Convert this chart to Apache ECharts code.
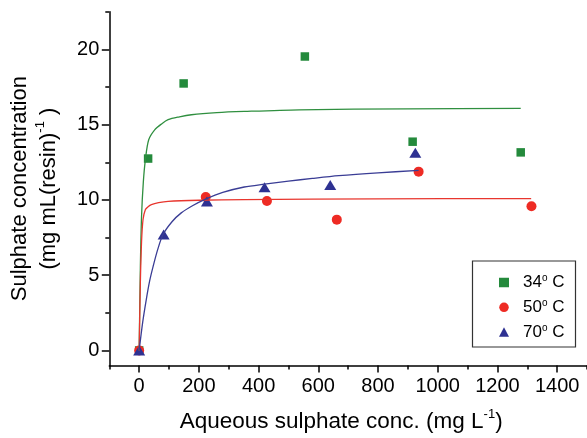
<!DOCTYPE html>
<html>
<head>
<meta charset="utf-8">
<script src="https://cdn.jsdelivr.net/npm/echarts@6/dist/echarts.min.js"></script>
<style>html,body{margin:0;padding:0;background:#fff;}#c{width:587px;height:438px;}</style>
</head>
<body>
<div id="c"></div>
<script>
// ---- data ----
var seriesNames = ['34° C', '50° C', '70° C'];
var data34 = [[0, 0], [30, 12.75], [149, 17.74], [555, 19.53], [916, 13.87], [1278, 13.16]];
var data50 = [[0, 0], [223, 10.2], [428, 9.93], [662, 8.69], [936, 11.88], [1314, 9.58]];
var data70 = [[0, 0], [82, 7.7], [227, 9.9], [420, 10.84], [640, 11.0], [925, 13.14]];
var fit34 = [[0, 0], [4, 5.5], [8, 8.9], [14, 11.2], [21, 12.7], [32, 14.0], [52, 14.66], [75, 15.05], [97, 15.33], [135, 15.52], [175, 15.66], [260, 15.8], [352, 15.88], [536, 15.99], [900, 16.05], [1278, 16.08]];
var fit50 = [[0, 0], [4, 4.5], [8, 7.2], [13, 8.7], [21, 9.36], [30, 9.55], [41, 9.69], [65, 9.82], [97, 9.91], [200, 9.98], [352, 10.02], [800, 10.07], [1313, 10.09]];
var fit70 = [[0, 0], [12, 1.9], [24, 3.4], [35, 4.6], [47, 5.6], [62, 6.7], [80, 7.7], [110, 8.55], [141, 9.14], [180, 9.63], [219, 10.02], [280, 10.5], [352, 10.86], [420, 11.05], [500, 11.25], [580, 11.43], [669, 11.61], [800, 11.8], [936, 11.96]];
var xMajorTicks = [0, 200, 400, 600, 800, 1000, 1200, 1400];
var xMinorTicks = [-100, 100, 300, 500, 700, 900, 1100, 1300, 1500];
var yMajorTicks = [0, 5, 10, 15, 20];
var yMinorTicks = [2.5, 7.5, 12.5, 17.5, 22.5];

var FONT = 'Liberation Sans, Arial, sans-serif';
var cGreen = '#248a3c', cRed = '#ee2b24', cBlue = '#2e3192';
var lGreen = '#2f8f3f', lRed = '#e8362e', lBlue = '#3a3d95';

var chart = echarts.init(document.getElementById('c'), null, {renderer: 'canvas'});
var supMap = {'34° C': '34', '50° C': '50', '70° C': '70'};
var option = {
  animation: false,
  backgroundColor: '#fff',
  textStyle: {fontFamily: FONT},
  grid: {left: 109.3, top: 11.8, width: 480, height: 354.3, containLabel: false},
  xAxis: [{
    type: 'value', min: -100, max: 1500, interval: 100,
    axisLine: {onZero: false, lineStyle: {color: '#000', width: 1.5}},
    axisTick: {show: true, length: 7, customValues: xMajorTicks, lineStyle: {color: '#000', width: 1.5}},
    axisLabel: {customValues: xMajorTicks, color: '#000', fontSize: 20, fontFamily: FONT, margin: 11,
      formatter: function (v) { return String(v); }},
    splitLine: {show: false},
    name: '{a|Aqueous sulphate conc. (mg L}{s|-1}{a|)}',
    nameLocation: 'middle', nameGap: 42,
    nameTextStyle: {padding: [0, 14, 0, 0], rich: {
      a: {fontSize: 22.5, fontFamily: FONT, color: '#000', lineHeight: 28},
      s: {fontSize: 13, fontFamily: FONT, color: '#000', verticalAlign: 'top', lineHeight: 13}
    }}
  }, {
    type: 'value', min: -100, max: 1500, interval: 100, position: 'bottom',
    axisLine: {show: false, onZero: false},
    axisTick: {show: true, length: 4, customValues: xMinorTicks, lineStyle: {color: '#000', width: 1.5}},
    axisLabel: {show: false}, splitLine: {show: false}
  }],
  yAxis: [{
    type: 'value', min: -1, max: 22.5,
    axisLine: {onZero: false, lineStyle: {color: '#000', width: 1.5}},
    axisTick: {show: true, length: 7.5, customValues: yMajorTicks, lineStyle: {color: '#000', width: 1.5}},
    axisLabel: {customValues: yMajorTicks, color: '#000', fontSize: 20, fontFamily: FONT, margin: 10},
    splitLine: {show: false},
    name: '{a|Sulphate concentration}\n{a|(mg mL(resin)}{s|-1}{a| )}',
    nameLocation: 'middle', nameRotate: 90, nameGap: 46,
    nameTextStyle: {align: 'center', rich: {
      a: {fontSize: 22, fontFamily: FONT, color: '#000', lineHeight: 29},
      s: {fontSize: 13, fontFamily: FONT, color: '#000', verticalAlign: 'top', lineHeight: 14}
    }}
  }, {
    type: 'value', min: -1, max: 22.5, position: 'left',
    axisLine: {show: false, onZero: false},
    axisTick: {show: true, length: 4, customValues: yMinorTicks, lineStyle: {color: '#000', width: 1.5}},
    axisLabel: {show: false}, splitLine: {show: false}
  }],
  legend: {
    orient: 'vertical', left: 499, top: 273.5, padding: 0, itemWidth: 10, itemHeight: 9.5, itemGap: 7.3,
    data: seriesNames,
    formatter: function (n) { return '{a|' + supMap[n] + '}{s|o}{a| C}'; },
    textStyle: {padding: [0, 0, 0, 9], rich: {
      a: {fontSize: 17, fontFamily: FONT, color: '#000', lineHeight: 18},
      s: {fontSize: 10, fontFamily: FONT, color: '#000', verticalAlign: 'top', lineHeight: 7}
    }}
  },
  graphic: [{
    type: 'rect', shape: {x: 472.5, y: 261, width: 103, height: 86},
    style: {fill: 'none', stroke: '#333', lineWidth: 1.2}, z: 100
  }],
  series: [
    {type: 'line', name: 'fit34', data: fit34, smooth: 0.3, showSymbol: false, lineStyle: {color: lGreen, width: 1.3}, itemStyle: {color: lGreen}, z: 3},
    {type: 'line', name: 'fit50', data: fit50, smooth: 0.3, showSymbol: false, lineStyle: {color: lRed, width: 1.3}, itemStyle: {color: lRed}, z: 3},
    {type: 'line', name: 'fit70', data: fit70, smooth: 0.3, showSymbol: false, lineStyle: {color: lBlue, width: 1.3}, itemStyle: {color: lBlue}, z: 3},
    {type: 'scatter', name: seriesNames[0], data: data34, symbol: 'rect', symbolSize: 8.5, itemStyle: {color: cGreen, opacity: 1}, z: 2},
    {type: 'scatter', name: seriesNames[1], data: data50, symbol: 'circle', symbolSize: 10, itemStyle: {color: cRed, opacity: 1}, z: 2},
    {type: 'scatter', name: seriesNames[2], data: data70, symbol: 'triangle', symbolSize: [12, 10], itemStyle: {color: cBlue, opacity: 1}, z: 2}
  ]
};
chart.setOption(option);
</script>
</body>
</html>
